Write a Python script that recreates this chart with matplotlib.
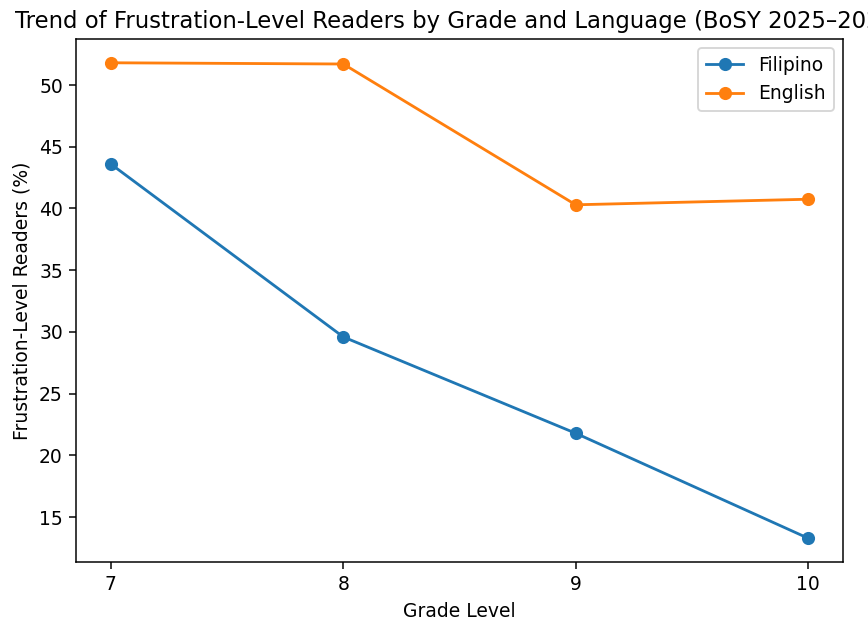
import matplotlib
matplotlib.use("Agg")
import matplotlib.pyplot as plt

grades = [7, 8, 9, 10]
filipino = [43.6, 29.6, 21.8, 13.3]
english = [51.8, 51.7, 40.3, 40.75]

DPI = 135
fig = plt.figure(figsize=(868 / DPI, 623 / DPI), dpi=DPI)
ax = fig.add_axes([76 / 868, 1 - 562 / 623, (843 - 76) / 868, (562 - 39) / 623])

ax.plot(grades, filipino, marker="o", label="Filipino")
ax.plot(grades, english, marker="o", label="English")
ax.set_xticks(grades)
ax.set_xlabel("Grade Level")
ax.set_ylabel("Frustration-Level Readers (%)")
ax.set_title("Trend of Frustration-Level Readers by Grade and Language (BoSY 2025\u20132026)",
             fontsize=12.15)
ax.legend()

fig.savefig("out.png", dpi=DPI)
